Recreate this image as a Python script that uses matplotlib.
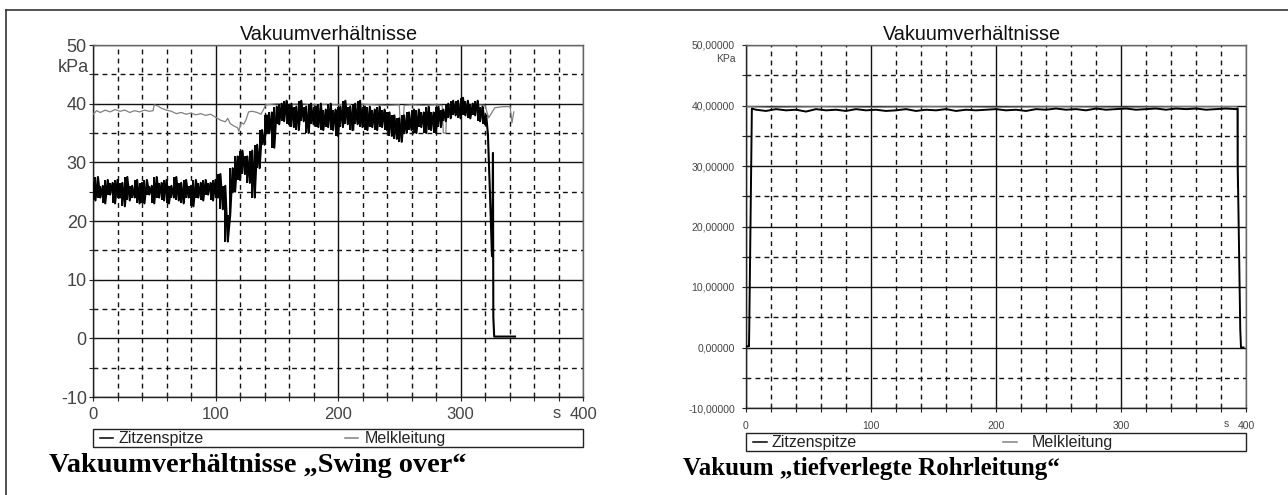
import numpy as np
import matplotlib
matplotlib.use("Agg")
import matplotlib.pyplot as plt
from matplotlib.lines import Line2D
from matplotlib.patches import Rectangle

W, H = 1288, 495

# --- left chart: "Swing over" ---
# Zitzenspitze, read every 2 s (alternating high / low of the noise band)
zitz_left = [
    26.5, 23.5, 27.5, 24, 26, 23, 27, 24.5, 26.5, 23,
    27, 24, 26.5, 22.5, 27.5, 23.5, 26, 24, 27, 23,
    26.5, 23, 27, 24.5, 26, 23, 27.5, 24, 26.5, 23.5,
    27, 23, 26, 24, 27.5, 23.5, 26.5, 23, 27, 24,
    26, 22.5, 27, 24, 26.5, 23.5, 27, 24.5, 26.5, 23.5,
    27, 24, 28, 22, 26, 16.5, 21, 29, 25, 31,
    27, 32, 28, 31, 26.5, 32, 24, 33, 29, 35.5,
    33, 38, 35, 38.5, 32.5, 39.5, 36.5, 40, 37, 40.5,
    36.5, 40, 36, 39.5, 35.5, 40.5, 37, 39.5, 35, 40,
    36.5, 39.5, 36, 40, 35.5, 39, 36, 40, 35.5, 39,
    34.5, 39.5, 36, 40.5, 36.5, 39.5, 35.5, 40, 36.5, 40.5,
    36, 39.5, 35.5, 39.5, 36, 39, 35.5, 39.5, 36, 39,
    35.5, 38.5, 34.5, 38, 34, 37.5, 33.5, 38, 35, 38.5,
    35.5, 39, 35, 39, 36, 38.5, 35, 39.5, 35.5, 38.5,
    35, 39.5, 36, 39, 37, 40, 37.5, 40.5, 38, 40.5,
    37.5, 41, 38, 40.5, 37.5, 40, 38, 40.5, 37, 39.5,
    36.5,
]
zitz_left_t = np.arange(0, 321, 2)
# drop at the end of milking
drop_left_t = [321, 322.4, 324, 325.7, 326.2, 326.5, 326.8, 327.5, 344.5]
drop_left_v = [38, 34.7, 25, 14, 22, 31.6, 3.6, 0.3, 0.3]

melk_left_t = [0, 3, 6, 10, 14, 18, 22, 26, 30, 34, 38, 42, 46, 49, 50, 53, 56, 60,
               64, 68, 72, 76, 80, 84, 88, 92, 96, 100, 104, 108, 110, 112, 115, 118,
               119, 121, 123, 125, 127, 130, 134, 137, 139, 141, 150, 160, 170, 180,
               190, 200, 210, 211, 213, 214, 220, 230, 240, 250, 251, 253, 254, 260,
               270, 280, 285, 286, 288, 289, 295, 300, 310, 320, 323, 328, 335, 340.5,
               342, 343.5]
melk_left_v = [38.2, 38.8, 38.5, 38.9, 38.6, 39.0, 38.7, 38.9, 38.5, 38.8, 38.6, 38.9,
               38.7, 38.8, 39.8, 39.6, 39.2, 38.9, 38.7, 38.3, 38.5, 38.2, 38.4, 38.1,
               38.3, 38.0, 38.2, 37.7, 37.2, 36.9, 37.5, 36.6, 36.2, 35.9, 35.3, 36.8,
               36.5, 37.3, 38.6, 38.7, 38.5, 38.2, 38.9, 39.8, 40.0, 39.9, 40.0, 39.8,
               39.9, 39.8, 39.9, 35.5, 35.5, 39.8, 39.9, 39.8, 39.7, 39.8, 36, 36, 39.7,
               39.8, 39.7, 39.8, 39.7, 35, 35, 39.6, 39.8, 39.9, 39.9, 39.7, 37.6, 39.3,
               39.5, 39.5, 36.7, 38.6]

# --- right chart: "tiefverlegte Rohrleitung" ---
zitz_right_t = [0, 2.4, 2.6, 4.7] + list(np.arange(8, 393, 8)) + [393.4, 393.4, 394.6, 395.4, 396, 398]
zitz_right_v = [0.2, 0.2, 3, 39.5] + [
    39.3, 39.1, 39.4, 39.2, 39.3, 39.0, 39.4, 39.2, 39.3, 39.1,
    39.4, 39.2, 39.3, 39.1, 39.2, 39.4, 39.1, 39.3, 39.2, 39.4,
    39.1, 39.3, 39.2, 39.3, 39.4, 39.2, 39.3, 39.1, 39.4, 39.3,
    39.5, 39.3, 39.4, 39.2, 39.5, 39.3, 39.4, 39.5, 39.3, 39.4,
    39.5, 39.3, 39.5, 39.4, 39.5, 39.3, 39.4, 39.5, 39.4,
] + [39.5, 30, 14, 3, 0, 0]
melk_right_t = [1, 20, 60, 100, 150, 200, 250, 300, 350, 392.8, 393.2]
melk_right_v = [39.8, 39.7, 39.8, 39.7, 39.8, 39.7, 39.8, 39.7, 39.8, 39.8, 26.5]

x_major = [0, 100, 200, 300, 400]
x_minor = [v for v in range(20, 400, 20) if v % 100]
y_major = list(range(-10, 51, 10))
y_minor = list(range(-5, 50, 10))
series_names = ['Zitzenspitze', 'Melkleitung']

fig = plt.figure(figsize=(W / 100, H / 100), dpi=100)
plt.rcParams['font.family'] = ['Liberation Sans', 'DejaVu Sans']


def px_axes(x0, y0, x1, y1):
    return fig.add_axes([x0 / W, 1 - y1 / H, (x1 - x0) / W, (y1 - y0) / H])


def style_axes(ax, ylabels, yfs, xfs, ypad, xpad):
    ax.set_xlim(0, 400)
    ax.set_ylim(-10, 50)
    ax.set_xticks(x_major)
    ax.set_xticklabels(['0', '100', '200', '300', '400'])
    ax.set_xticks(x_minor, minor=True)
    ax.set_yticks(y_major)
    ax.set_yticklabels(ylabels)
    ax.set_yticks(y_minor, minor=True)
    ax.grid(which='major', color='#111111', lw=1.0, ls='-')
    ax.grid(which='minor', color='#111111', lw=1.0, ls=(0, (3.5, 3)))
    ax.tick_params(which='both', direction='inout', length=6, width=0.8, color='#222222')
    ax.tick_params(axis='y', labelsize=yfs, pad=ypad, labelcolor='#444444')
    ax.tick_params(axis='x', labelsize=xfs, pad=xpad, labelcolor='#444444')
    for s in ax.spines.values():
        s.set_color('#222222')
        s.set_linewidth(1.0)
    ax.spines['top'].set_color('#666666')
    ax.spines['right'].set_color('#666666')


def box_legend(x0, x1, y0, y1, line1, text1, line2, text2, fs):
    # legend frame below the plot, drawn in pixel positions of the figure
    fig.add_artist(Rectangle((x0 / W, 1 - y1 / H), (x1 - x0) / W, (y1 - y0) / H,
                             transform=fig.transFigure, fill=False, ec='#222222', lw=1.0))
    yc = 1 - (y0 + y1) / 2 / H
    for (la, lb), col in [(line1, 'black'), (line2, '#808080')]:
        fig.add_artist(Line2D([la / W, lb / W], [yc, yc], color=col, lw=1.1))
    fig.text(text1 / W, yc, series_names[0], ha='left', va='center', fontsize=fs, color='#222222')
    fig.text(text2 / W, yc, series_names[1], ha='left', va='center', fontsize=fs, color='#222222')


# left
ax1 = px_axes(93, 45, 583, 397)
style_axes(ax1, [str(v) for v in y_major], 13, 12, 1.5, 4.5)
ax1.plot(melk_left_t, melk_left_v, color='#808080', lw=0.9, zorder=3)
zl_t = np.array(list(zitz_left_t) + drop_left_t, dtype=float)
zl_v = np.array(zitz_left + drop_left_v, dtype=float)
ax1.plot(zl_t, zl_v, color='black', lw=1.5, zorder=4)
# fill between neighbouring samples so the noise band reads as dense as the original
ax1.vlines(zitz_left_t[:-1], np.minimum(zitz_left[:-1], zitz_left[1:]),
           np.maximum(zitz_left[:-1], zitz_left[1:]), color='black', lw=1.4, zorder=4)
ax1.annotate('s', xy=(1, 0), xycoords='axes fraction', xytext=(-26, -9),
             textcoords='offset pixels', ha='center', va='top', fontsize=12, color='#444444')
fig.text(89 / W, 1 - 67 / H, 'kPa', ha='right', va='center', fontsize=13, color='#444444')
fig.text(329 / W, 1 - 35 / H, 'Vakuumverhältnisse', ha='center', va='center', fontsize=14.3, color='#111111')
box_legend(93, 583, 429, 447, (100, 113), 118, (345, 358), 365, 11.5)
fig.text(49 / W, 1 - 465 / H, 'Vakuumverhältnisse \u201eSwing over\u201c', ha='left', va='center',
         fontsize=20.3, family='Liberation Serif', weight='bold')

# right
ax2 = px_axes(746, 45, 1246, 408)
style_axes(ax2, ['{:,.5f}'.format(v).replace('.', ',') for v in y_major], 7.5, 7.5, 5, 6.5)
ax2.plot(melk_right_t, melk_right_v, color='#808080', lw=0.9, zorder=3)
ax2.plot(zitz_right_t, zitz_right_v, color='black', lw=1.4, zorder=4)
ax2.annotate('s', xy=(1, 0), xycoords='axes fraction', xytext=(-20, -11),
             textcoords='offset pixels', ha='center', va='top', fontsize=7.5, color='#444444')
fig.text(736 / W, 1 - 59 / H, 'KPa', ha='right', va='center', fontsize=7.5, color='#444444')
fig.text(972 / W, 1 - 35 / H, 'Vakuumverhältnisse', ha='center', va='center', fontsize=14.3, color='#111111')
box_legend(746, 1246, 433, 451, (753, 767), 772, (1003, 1017), 1032, 11.5)
fig.text(683 / W, 1 - 468 / H, 'Vakuum \u201etiefverlegte Rohrleitung\u201c', ha='left', va='center',
         fontsize=18, family='Liberation Serif', weight='bold')

# outer frame lines
fig.add_artist(Line2D([6 / W, 6 / W], [0, 1 - 10 / H], color='#333333', lw=1.2))
fig.add_artist(Line2D([6 / W, 1], [1 - 10 / H, 1 - 10 / H], color='#333333', lw=1.2))

fig.savefig('out.png', dpi=100)
